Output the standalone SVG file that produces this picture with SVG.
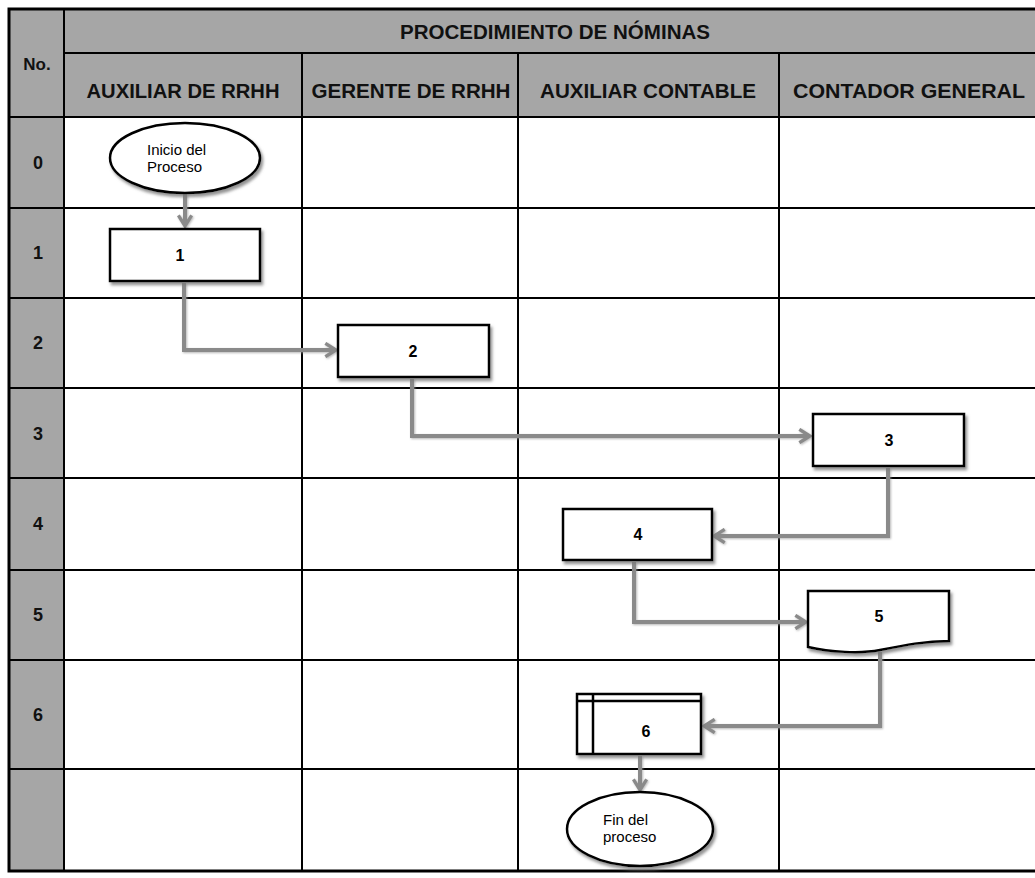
<svg xmlns="http://www.w3.org/2000/svg" width="1035" height="878" viewBox="0 0 1035 878">
<style>
.hdr{fill:#a6a6a6}
.grid{stroke:#000;stroke-width:2;fill:none}
.outer{stroke:#000;stroke-width:3;fill:none}
.ht{font-family:"Liberation Sans",Arial,sans-serif;font-weight:bold;font-size:19.5px;fill:#111;text-anchor:middle}
.num{font-family:"Liberation Sans",Arial,sans-serif;font-weight:bold;font-size:18px;fill:#111;text-anchor:middle}
.shape{fill:#fff;stroke:#000;stroke-width:2.5;filter:url(#sh)}
.bt{font-family:"Liberation Sans",Arial,sans-serif;font-weight:bold;font-size:16px;fill:#000;text-anchor:middle}
.et{font-family:"Liberation Sans",Arial,sans-serif;font-size:15px;fill:#000}
.conn{fill:none;stroke:#8a8a8a;stroke-width:4;marker-end:url(#ah);filter:url(#sh2)}
</style>
<defs>
<filter id="sh" x="-10%" y="-10%" width="130%" height="140%">
<feDropShadow dx="2" dy="3" stdDeviation="1.5" flood-color="#777" flood-opacity="0.8"/>
</filter>
<filter id="sh2" filterUnits="userSpaceOnUse" x="0" y="0" width="1035" height="878">
<feDropShadow dx="1" dy="1" stdDeviation="1" flood-color="#999" flood-opacity="0.7"/>
</filter>
<marker id="ah" viewBox="0 0 12 12" refX="10" refY="6" markerWidth="4" markerHeight="4" orient="auto" markerUnits="strokeWidth">
<path d="M2,1 L10,6 L2,11" fill="none" stroke="#8a8a8a" stroke-width="2.5"/>
</marker>
</defs>
<rect x="0" y="0" width="1035" height="878" fill="#fff"/>
<g id="table">
<rect class="hdr" x="9" y="9" width="1026" height="108"/>
<rect class="hdr" x="9" y="117" width="55" height="754"/>
<line class="grid" x1="64" y1="53" x2="1035" y2="53"/>
<line class="grid" x1="9" y1="117" x2="1035" y2="117"/>
<line class="grid" x1="9" y1="208" x2="1035" y2="208"/>
<line class="grid" x1="9" y1="298" x2="1035" y2="298"/>
<line class="grid" x1="9" y1="388" x2="1035" y2="388"/>
<line class="grid" x1="9" y1="478" x2="1035" y2="478"/>
<line class="grid" x1="9" y1="570" x2="1035" y2="570"/>
<line class="grid" x1="9" y1="660" x2="1035" y2="660"/>
<line class="grid" x1="9" y1="769" x2="1035" y2="769"/>
<line class="grid" x1="64" y1="9" x2="64" y2="871"/>
<line class="grid" x1="302" y1="53" x2="302" y2="871"/>
<line class="grid" x1="518" y1="53" x2="518" y2="871"/>
<line class="grid" x1="779" y1="53" x2="779" y2="871"/>
<path class="outer" d="M1035,9 H9 V871 H1035"/>
<text class="ht" x="555" y="39" textLength="310" lengthAdjust="spacingAndGlyphs">PROCEDIMIENTO DE NÓMINAS</text>
<text class="ht" x="37" y="70" style="font-size:17px">No.</text>
<text class="ht" x="183" y="98" textLength="193" lengthAdjust="spacingAndGlyphs">AUXILIAR DE RRHH</text>
<text class="ht" x="411" y="98" textLength="199" lengthAdjust="spacingAndGlyphs">GERENTE DE RRHH</text>
<text class="ht" x="648" y="98" textLength="216" lengthAdjust="spacingAndGlyphs">AUXILIAR CONTABLE</text>
<text class="ht" x="909" y="98" textLength="232" lengthAdjust="spacingAndGlyphs">CONTADOR GENERAL</text>
<text class="num" x="38" y="169">0</text>
<text class="num" x="38" y="259">1</text>
<text class="num" x="38" y="349">2</text>
<text class="num" x="38" y="440">3</text>
<text class="num" x="38" y="530">4</text>
<text class="num" x="38" y="621">5</text>
<text class="num" x="38" y="721">6</text>
</g>
<g id="connectors">
<path class="conn" d="M185,194 V226"/>
<path class="conn" d="M184,283 V350 H336"/>
<path class="conn" d="M412,379 V436 H810"/>
<path class="conn" d="M888,468 V536 H714"/>
<path class="conn" d="M634,562 V622 H806"/>
<path class="conn" d="M880,652 V726 H704"/>
<path class="conn" d="M640,756 V790"/>
</g>
<g id="start">
<ellipse class="shape" cx="185" cy="158" rx="75" ry="35"/>
<text class="et" x="147" y="155">Inicio del</text>
<text class="et" x="147" y="172">Proceso</text>
</g>
<g id="n1">
<rect class="shape" x="110" y="229" width="150" height="52"/>
<text class="bt" x="180" y="261">1</text>
</g>
<g id="n2">
<rect class="shape" x="338" y="325" width="151" height="52"/>
<text class="bt" x="413" y="357">2</text>
</g>
<g id="n3">
<rect class="shape" x="813" y="414" width="151" height="52"/>
<text class="bt" x="889" y="446">3</text>
</g>
<g id="n4">
<rect class="shape" x="563" y="509" width="149" height="51"/>
<text class="bt" x="638" y="540">4</text>
</g>
<g id="n5">
<path class="shape" d="M808,591 H949 V641 C925,641 905,645 880,650 C860,654 830,652 808,647 Z"/>
<text class="bt" x="879" y="622">5</text>
</g>
<g id="n6">
<rect class="shape" x="577" y="694" width="124" height="60"/>
<line x1="577" y1="701" x2="701" y2="701" stroke="#000" stroke-width="2.5"/>
<line x1="593" y1="694" x2="593" y2="754" stroke="#000" stroke-width="2.5"/>
<text class="bt" x="646" y="737">6</text>
</g>
<g id="end">
<ellipse class="shape" cx="640" cy="829" rx="73" ry="37"/>
<text class="et" x="603" y="825">Fin del</text>
<text class="et" x="603" y="842">proceso</text>
</g>
</svg>
